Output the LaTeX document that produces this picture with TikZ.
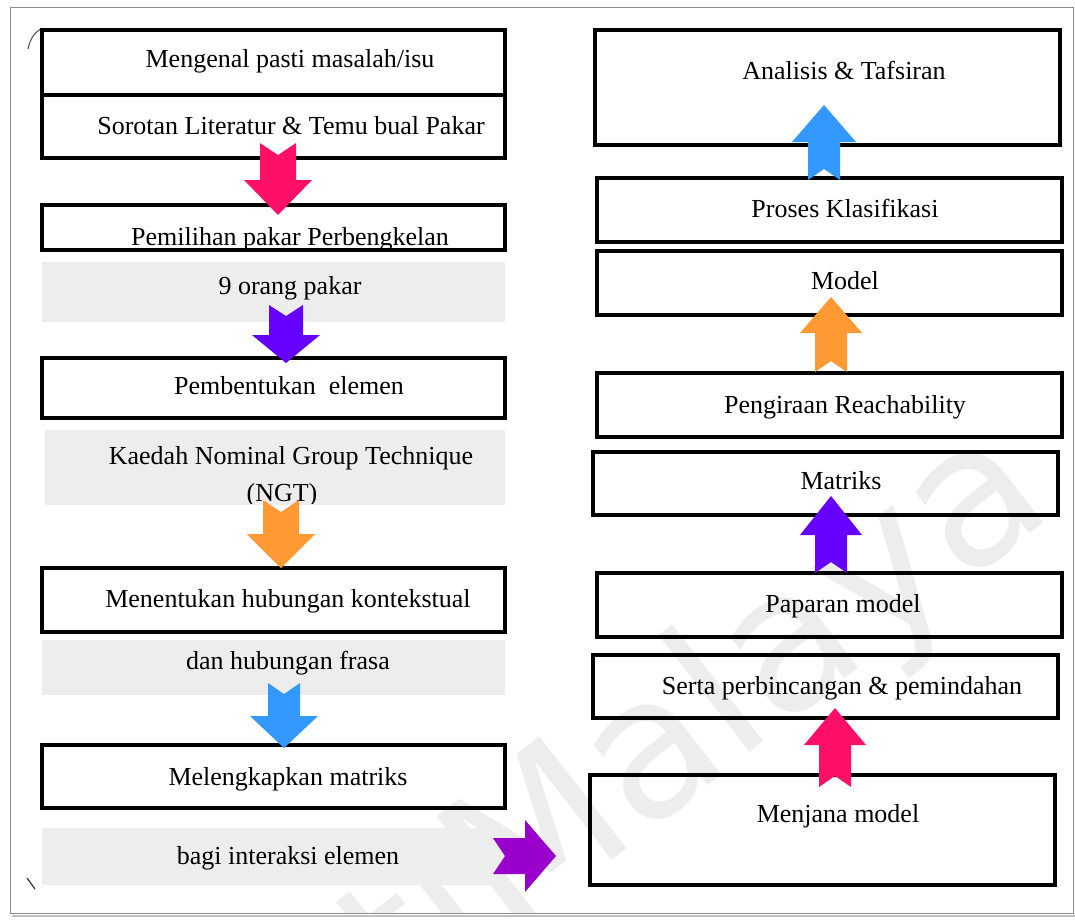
\documentclass[tikz,border=0pt]{standalone}
\usepackage{fontspec}
\setmainfont{Liberation Serif}
\newfontfamily\wmfont{DejaVu Sans}
\usetikzlibrary{fit}

\definecolor{apink}{RGB}{255,16,104}
\definecolor{aviolet}{RGB}{102,0,255}
\definecolor{aorange}{RGB}{255,153,51}
\definecolor{ablue}{RGB}{51,153,255}
\definecolor{amagenta}{RGB}{153,0,204}

% vertical notched block arrow:
% #1 colour, #2 centre x, #3 tail y, #4 head base y, #5 tip y, #6 half shaft, #7 half head, #8 notch depth (signed)
\newcommand\vnotch[8]{%
  \fill[#1] ({#2-#6},#3) -- (#2,{#3+#8}) -- ({#2+#6},#3) -- ({#2+#6},#4) -- ({#2+#7},#4)
    -- (#2,#5) -- ({#2-#7},#4) -- ({#2-#6},#4) -- cycle;}
% horizontal notched block arrow: #2 centre y, #3 tail x, #4 head base x, #5 tip x
\newcommand\hnotch[8]{%
  \fill[#1] (#3,{#2-#6}) -- ({#3+#8},#2) -- (#3,{#2+#6}) -- (#4,{#2+#6}) -- (#4,{#2+#7})
    -- (#5,#2) -- (#4,{#2-#7}) -- (#4,{#2-#6}) -- cycle;}

\begin{document}
\begin{tikzpicture}[x=1pt,y=-1pt,
  stepbox/.style={draw=black, line width=3.1pt, inner sep=0pt},
  band/.style={fill=black!7, draw=none, inner sep=0pt},
  lbl/.style={font=\fontsize{26}{30}\selectfont, inner sep=0pt, anchor=base},
]
\useasboundingbox (0,0) rectangle (1075,921);

% watermark
\begin{scope}
  \clip (10,7) rectangle (1073,913);
  \node[rotate=38, text=black!7, font=\wmfont\fontsize{195}{195}\selectfont,
        anchor=base east, inner sep=0pt] (wm) at (1058,512) {tiMalaya};
\end{scope}

% outer frame
\draw[black!25, line width=2pt] (12,916) -- (1075,916);
\draw[black!45, line width=0.8pt] (10,7) rectangle (1073,913);
\draw[black!70, line width=1pt] (28,49) .. controls (30,39) and (35,31) .. (43,28);
\draw[black!80, line width=1.2pt] (27,878) -- (35,889);

% grey bands (left column)
\node[band, fit={(42,262) (505,322)}] (b1) {};
\node[band, fit={(45,430) (505,505)}] (b2) {};
\node[band, fit={(42,640) (505,695)}] (b3) {};
\node[band, fit={(42,828) (505,885)}] (b4) {};

% left column boxes
\node[stepbox, fit={(42,30) (505,95)}] (l1) {};
\node[stepbox, fit={(42,95) (505,158)}] (l2) {};
\node[stepbox, fit={(42,205) (505,250)}] (l3) {};
\node[stepbox, fit={(42,358) (505,418)}] (l4) {};
\node[stepbox, fit={(42,568) (505,632)}] (l5) {};
\node[stepbox, fit={(42,745) (505,808)}] (l6) {};

% right column boxes
\node[stepbox, fit={(595,30) (1060,145)}] (r1) {};
\node[stepbox, fit={(597,178) (1062,242)}] (r2) {};
\node[stepbox, fit={(597,251) (1062,315)}] (r3) {};
\node[stepbox, fit={(597,373) (1062,437)}] (r4) {};
\node[stepbox, fit={(593,452) (1058,515)}] (r5) {};
\node[stepbox, fit={(597,573) (1062,637)}] (r6) {};
\node[stepbox, fit={(593,655) (1058,718)}] (r7) {};
\node[stepbox, fit={(590,775) (1055,885)}] (r8) {};

% left column labels
\node[lbl] (t1) at (290,67) {Mengenal pasti masalah/isu};
\node[lbl] (t2) at (291,134) {Sorotan Literatur \& Temu bual Pakar};
\begin{scope}
  \clip (42,205) rectangle (505,248);
  \node[lbl] (t3) at (290,245) {Pemilihan pakar Perbengkelan};
\end{scope}
\node[lbl] (t4) at (290,294) {9 orang pakar};
\node[lbl] (t5) at (289,394) {Pembentukan\ \ elemen};
\node[lbl] (t6) at (291,464) {Kaedah Nominal Group Technique};
\begin{scope}
  \clip (45,430) rectangle (505,503);
  \node[lbl] (t7) at (282,501) {(NGT)};
\end{scope}
\node[lbl] (t8) at (288,607) {Menentukan hubungan kontekstual};
\node[lbl] (t9) at (288,669) {dan hubungan frasa};
\node[lbl] (t10) at (288,785) {Melengkapkan matriks};
\node[lbl] (t11) at (288,864) {bagi interaksi elemen};

% right column labels
\node[lbl] (s1) at (844,79) {Analisis \& Tafsiran};
\node[lbl] (s2) at (845,217) {Proses Klasifikasi};
\node[lbl] (s3) at (845,289) {Model};
\node[lbl] (s4) at (845,413) {Pengiraan Reachability};
\node[lbl] (s5) at (841,489) {Matriks};
\node[lbl] (s6) at (843,612) {Paparan model};
\node[lbl] (s7) at (842,694) {Serta perbincangan \& pemindahan};
\node[lbl] (s8) at (838,822) {Menjana model};

% flow arrows, left column (downwards)
\vnotch{apink}{278}{143}{180}{215}{18}{34}{12}
\vnotch{aviolet}{286}{305}{335}{363}{17}{34}{11}
\vnotch{aorange}{281}{500}{534}{568}{18}{34}{12}
\vnotch{ablue}{284}{683}{716}{748}{16}{34}{11}
% across to the right column
\hnotch{amagenta}{856}{493}{525}{556}{18}{36}{12}
% right column (upwards)
\vnotch{apink}{835}{787}{745}{708}{16}{31}{-11}
\vnotch{aviolet}{831}{573}{535}{496}{16}{31}{-11}
\vnotch{aorange}{831}{372}{333}{297}{16}{31}{-11}
\vnotch{ablue}{824}{180}{142}{105}{16}{32}{-11}
\end{tikzpicture}
\end{document}
